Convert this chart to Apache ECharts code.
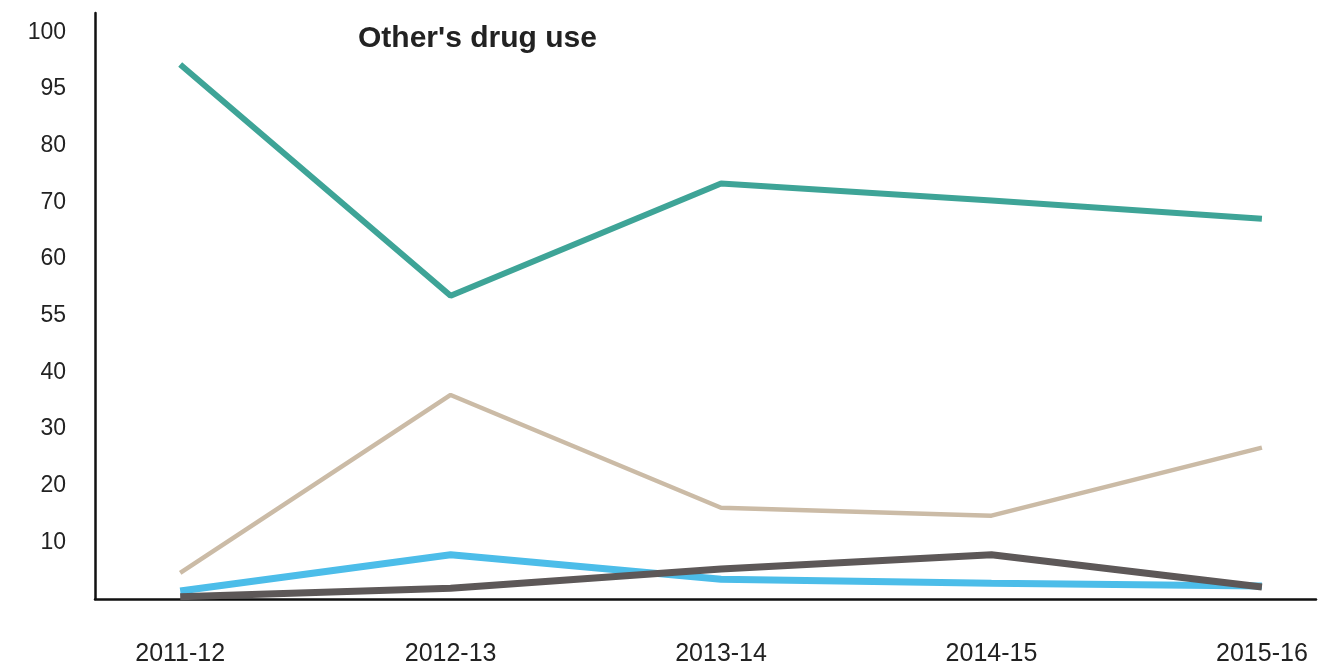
<!DOCTYPE html>
<html><head><meta charset="utf-8">
<script src="https://cdn.jsdelivr.net/npm/echarts@6/dist/echarts.min.js"></script>
<style>html,body{margin:0;padding:0;background:#fff}#c{width:1329px;height:669px}</style>
</head><body><div id="c"></div>
<script>
const categories = ["2011-12","2012-13","2013-14","2014-15","2015-16"];
// y tick labels as printed (evenly spaced positions 10..100)
const yTickPositions = [10,20,30,40,50,60,70,80,90,100];
const yTickLabels = ["10","20","30","40","55","60","70","80","95","100"];
// values in plotted axis position units
const teal = [94.3, 53.5, 73.3, 70.3, 67.1];
const tan = [4.6, 36.0, 16.1, 14.7, 26.7];
const blue = [1.4, 7.8, 3.5, 2.8, 2.3];
const gray = [0.4, 1.9, 5.3, 7.8, 2.1];

const toPts = arr => arr.map((v,i)=>[i,v]);
const chart = echarts.init(document.getElementById('c'), null, {renderer:'canvas'});
const font = "'Liberation Sans', Arial, sans-serif";
chart.setOption({
  animation:false,
  title:{text:"Other's drug use", left:353, top:19, textStyle:{fontFamily:font, fontSize:30, fontWeight:'bold', color:'#222'}},
  grid:{left:95, right:13, top:13, bottom:70, containLabel:false},
  xAxis:{type:'value', min:-0.315, max:4.2,
    axisLine:{show:true, onZero:false, lineStyle:{color:'#111', width:2.5}},
    axisTick:{show:false}, splitLine:{show:false},
    axisLabel:{customValues:[0,1,2,3,4], formatter:v=>categories[Math.round(v)], margin:43, fontFamily:font, fontSize:25, color:'#222'}
  },
  yAxis:{type:'value', min:0, max:103.4,
    axisLine:{show:true, onZero:false, lineStyle:{color:'#111', width:2.5}},
    axisTick:{show:false}, splitLine:{show:false},
    axisLabel:{customValues:yTickPositions, formatter:v=>yTickLabels[yTickPositions.indexOf(Math.round(v))], margin:29, padding:[7,0,0,0], fontFamily:font, fontSize:23, color:'#222'}
  },
  series:[
    {type:'line', data:toPts(tan), symbol:'none', lineStyle:{color:'#cbbba6', width:4.5}},
    {type:'line', data:toPts(teal), symbol:'none', lineStyle:{color:'#3ea497', width:6}},
    {type:'line', data:toPts(blue), symbol:'none', lineStyle:{color:'#4cbde9', width:7}},
    {type:'line', data:toPts(gray), symbol:'none', lineStyle:{color:'#5d5858', width:7}}
  ]
});
</script></body></html>
